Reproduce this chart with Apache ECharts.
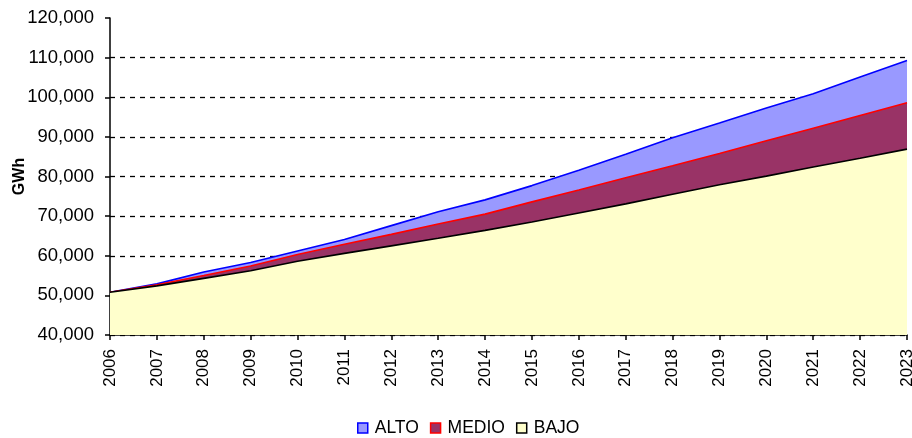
<!DOCTYPE html>
<html>
<head>
<meta charset="utf-8">
<script src="https://cdn.jsdelivr.net/npm/echarts@6/dist/echarts.min.js"></script>
<style>
  html, body { margin: 0; padding: 0; background: #fff; }
  #chart { width: 912px; height: 438px; }
</style>
</head>
<body>
<div id="chart"></div>
<script>
  // datos (GWh)
  const years = ['2006', '2007', '2008', '2009', '2010', '2011', '2012', '2013', '2014',
    '2015', '2016', '2017', '2018', '2019', '2020', '2021', '2022', '2023']
  const alto = [50800, 52900, 55900, 58300, 61200, 64100, 67600, 71100, 74100,
    77700, 81600, 85600, 89800, 93500, 97300, 100900, 105100, 109300]
  const medio = [50800, 52700, 55000, 57400, 60300, 62900, 65400, 68000, 70500,
    73600, 76600, 79700, 82700, 85800, 89000, 92200, 95400, 98600]
  const bajo = [50800, 52400, 54300, 56200, 58600, 60600, 62500, 64400, 66400,
    68500, 70800, 73100, 75500, 77900, 80100, 82400, 84600, 86900]

  const font = 'Arial, "Liberation Sans", sans-serif'

  // la ultima linea (120,000) no lleva guion
  const splitColors = ['#000', '#000', '#000', '#000', '#000', '#000', '#000', '#000', 'rgba(0,0,0,0)']

  function areaSeries (name, data, line, fill, z) {
    return {
      name: name,
      type: 'line',
      data: data,
      symbol: 'none',
      z: z,
      lineStyle: { color: line, width: 1.6 },
      itemStyle: { color: fill, borderColor: line },
      areaStyle: { color: fill, opacity: 1, origin: 'start' },
      emphasis: { disabled: true }
    }
  }

  let chart = echarts.init(document.getElementById('chart'))
  let option = {
    animation: false,
    grid: { left: 110, right: 5, top: 18, bottom: 103, outerBoundsMode: 'none', containLabel: false },
    legend: {
      top: 414,
      left: 352,
      icon: 'rect',
      itemWidth: 10,
      itemHeight: 10,
      itemGap: 11,
      textStyle: { fontFamily: font, fontSize: 17.5, color: '#000', padding: [0, 0, 0, 2] },
      data: [
        { name: 'ALTO', itemStyle: { color: '#9999ff', borderColor: '#0000ff', borderWidth: 1.5 } },
        { name: 'MEDIO', itemStyle: { color: '#993366', borderColor: '#ff0000', borderWidth: 1.5 } },
        { name: 'BAJO', itemStyle: { color: '#ffffcc', borderColor: '#000000', borderWidth: 1.5 } }
      ]
    },
    xAxis: {
      type: 'category',
      data: years,
      boundaryGap: false,
      axisLine: { lineStyle: { color: '#000', width: 1.5 } },
      axisTick: { show: true, length: 5, lineStyle: { color: '#000', width: 1.5 } },
      axisLabel: {
        rotate: 90,
        margin: 14,
        interval: 0,
        color: '#000',
        fontFamily: font,
        fontSize: 17
      },
      splitLine: { show: false }
    },
    yAxis: {
      type: 'value',
      min: 40000,
      max: 120000,
      interval: 10000,
      name: 'GWh',
      nameLocation: 'middle',
      nameGap: 82,
      nameMoveOverlap: false,
      nameTextStyle: { fontFamily: font, fontSize: 16, fontWeight: 'bold', color: '#000' },
      axisLine: { show: true, lineStyle: { color: '#000', width: 1.5 } },
      axisTick: { show: true, length: 5, lineStyle: { color: '#000', width: 1.5 } },
      axisLabel: {
        margin: 16,
        color: '#000',
        fontFamily: font,
        fontSize: 18.5
      },
      splitLine: {
        show: true,
        lineStyle: { color: splitColors, type: [5, 5], width: 1.3 }
      }
    },
    series: [
      areaSeries('ALTO', alto, '#0000ff', '#9999ff', 2),
      areaSeries('MEDIO', medio, '#ff0000', '#993366', 3),
      areaSeries('BAJO', bajo, '#000000', '#ffffcc', 4)
    ]
  }
  chart.setOption(option)
</script>
</body>
</html>
